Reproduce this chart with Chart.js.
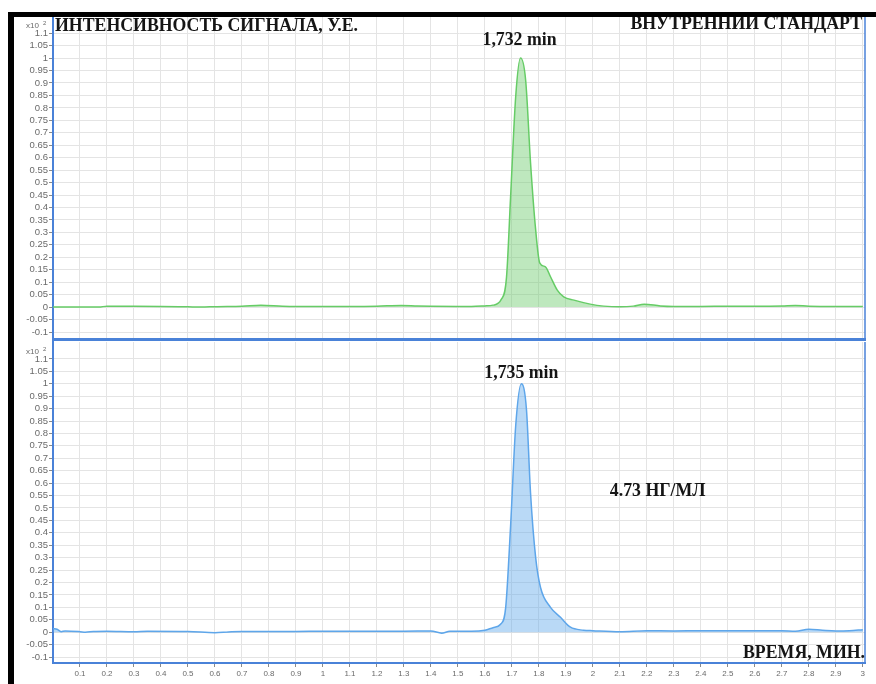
<!DOCTYPE html>
<html>
<head>
<meta charset="utf-8">
<script src="https://cdn.jsdelivr.net/npm/chart.js@4.4.1/dist/chart.umd.min.js"></script>
<style>
  html, body { margin: 0; padding: 0; background: #fff; }
  #wrap { position: relative; width: 876px; height: 684px; overflow: hidden; background: #fff; }
  #wrap canvas { position: absolute; left: 0; }
  #cTop { top: 0; }
  #cBot { top: 340px; }
  .bar { position: absolute; background: #000; z-index: 5; }
</style>
</head>
<body>
<div id="wrap">
  <canvas id="cTop" width="876" height="342" style="width:876px;height:342px"></canvas>
  <canvas id="cBot" width="876" height="344" style="width:876px;height:344px"></canvas>
  <div class="bar" style="left:8px;top:12px;width:868px;height:5px"></div>
  <div class="bar" style="left:8px;top:12px;width:6px;height:672px"></div>
</div>
<script>
// Retention time, min (x) and signal intensity, x10^2 a.u. (y)

// Internal standard trace
const standardTime = [0, 0.1, 0.17, 0.2, 0.3, 0.4, 0.5, 0.55, 0.6, 0.7, 0.77, 0.85, 0.9, 1.0, 1.1, 1.2, 1.29, 1.35, 1.4, 1.5, 1.55, 1.6, 1.63, 1.66, 1.68, 1.695, 1.714, 1.732, 1.751, 1.769, 1.788, 1.803, 1.824, 1.843, 1.868, 1.892, 1.93, 1.99, 2.04, 2.1, 2.15, 2.19, 2.25, 2.3, 2.4, 2.5, 2.6, 2.7, 2.75, 2.8, 2.9, 3.0];
const standardSignal = [0, 0, 0, 0.004, 0.004, 0.003, 0.001, 0, 0.002, 0.004, 0.008, 0.004, 0.003, 0.003, 0.003, 0.004, 0.007, 0.005, 0.004, 0.003, 0.003, 0.005, 0.008, 0.03, 0.12, 0.44, 0.845, 1.0, 0.91, 0.58, 0.31, 0.178, 0.162, 0.122, 0.068, 0.041, 0.028, 0.012, 0.004, 0.001, 0.004, 0.012, 0.005, 0.003, 0.003, 0.004, 0.004, 0.005, 0.007, 0.004, 0.003, 0.003];

// Sample trace
const sampleTime = [0, 0.015, 0.03, 0.045, 0.1, 0.12, 0.15, 0.2, 0.3, 0.35, 0.5, 0.6, 0.65, 0.7, 0.8, 0.9, 1.0, 1.1, 1.2, 1.3, 1.4, 1.44, 1.47, 1.55, 1.6, 1.63, 1.658, 1.677, 1.695, 1.714, 1.735, 1.754, 1.769, 1.788, 1.806, 1.843, 1.88, 1.917, 1.965, 2.0, 2.1, 2.2, 2.3, 2.4, 2.5, 2.6, 2.7, 2.75, 2.8, 2.85, 2.9, 2.95, 3.0];
const sampleSignal = [0.015, 0.012, 0.002, 0.005, 0.002, 0, 0.003, 0.004, 0.002, 0.004, 0.003, -0.002, 0.001, 0.003, 0.003, 0.003, 0.004, 0.004, 0.004, 0.004, 0.005, -0.004, 0.004, 0.004, 0.008, 0.018, 0.032, 0.1, 0.425, 0.83, 1.0, 0.895, 0.56, 0.3, 0.18, 0.1, 0.06, 0.02, 0.008, 0.006, 0.002, 0.006, 0.005, 0.006, 0.006, 0.006, 0.006, 0.004, 0.012, 0.008, 0.005, 0.006, 0.01];

// Peak apexes and result
const standardPeakTime = 1.732;
const samplePeakTime = 1.735;
const standardPeakLabel = '1,732 min';
const samplePeakLabel = '1,735 min';
const resultLabel = '4.73 НГ/МЛ';

// Axis ticks
const yTicks = [-0.1, -0.05, 0, 0.05, 0.1, 0.15, 0.2, 0.25, 0.3, 0.35, 0.4, 0.45, 0.5, 0.55, 0.6, 0.65, 0.7, 0.75, 0.8, 0.85, 0.9, 0.95, 1, 1.05, 1.1];
const xTicks = [0.1, 0.2, 0.3, 0.4, 0.5, 0.6, 0.7, 0.8, 0.9, 1, 1.1, 1.2, 1.3, 1.4, 1.5, 1.6, 1.7, 1.8, 1.9, 2, 2.1, 2.2, 2.3, 2.4, 2.5, 2.6, 2.7, 2.8, 2.9, 3];

const AXIS_BLUE = '#4a82d8';
const GRID = '#e4e4e4';
const TICK_TEXT = '#6a6a6a';
const TITLE_FONT = 'bold 17.8px "Liberation Serif", "Times New Roman", serif';

const fmt = v => String(Math.round(v * 100) / 100);

function toPoints(xs, ys) {
  return xs.map((x, i) => ({ x: x, y: ys[i] }));
}

// Texts, exponent marker and right frame line
const annotPlugin = {
  id: 'annot',
  afterDraw(chart, args, opts) {
    const ctx = chart.ctx;
    const area = chart.chartArea;
    const xs = chart.scales.x, ys = chart.scales.y;
    ctx.save();
    // right frame
    ctx.strokeStyle = AXIS_BLUE;
    ctx.lineWidth = 1.5;
    ctx.beginPath();
    ctx.moveTo(area.right, area.top);
    ctx.lineTo(area.right, area.bottom);
    ctx.stroke();

    // exponent marker above the y ticks
    const ey = ys.getPixelForValue(1.1) - 8;
    ctx.fillStyle = TICK_TEXT;
    ctx.textBaseline = 'middle';
    ctx.textAlign = 'left';
    ctx.font = '8px "Liberation Sans", Arial, sans-serif';
    ctx.fillText('x10', 26, ey + 1);
    ctx.font = '6px "Liberation Sans", Arial, sans-serif';
    ctx.fillText('2', 43, ey - 2);

    ctx.fillStyle = '#151515';
    (opts.texts || []).forEach(t => {
      ctx.textAlign = t.align || 'center';
      let px = t.px, py = t.py;
      if (t.x !== undefined) px = xs.getPixelForValue(t.x) + (t.dx || 0);
      if (t.y !== undefined) py = ys.getPixelForValue(t.y) + (t.dy || 0);
      ctx.font = t.font || TITLE_FONT;
      ctx.fillText(t.text, px, py);
    });
    ctx.restore();
  }
};

function makeChart(canvas, cfg) {
  return new Chart(canvas, {
    type: 'line',
    data: {
      datasets: [{
        data: toPoints(cfg.time, cfg.signal),
        borderColor: cfg.line,
        backgroundColor: cfg.fill,
        borderWidth: 1.5,
        pointRadius: 0,
        fill: 'origin',
        cubicInterpolationMode: 'monotone'
      }]
    },
    options: {
      responsive: false,
      animation: false,
      events: [],
      layout: { padding: cfg.padding },
      plugins: {
        legend: { display: false },
        tooltip: { enabled: false },
        annot: { texts: cfg.texts }
      },
      scales: {
        x: {
          type: 'linear',
          min: 0,
          max: 3.008,
          afterBuildTicks: s => { s.ticks = xTicks.map(v => ({ value: v })); },
          afterFit: s => { s.height = cfg.xHeight; s.paddingLeft = 0; s.paddingRight = 0; },
          ticks: {
            display: cfg.xLabels,
            autoSkip: false,
            maxRotation: 0,
            padding: 2,
            color: TICK_TEXT,
            font: { family: '"Liberation Sans", Arial, sans-serif', size: 8 },
            callback: v => fmt(v)
          },
          grid: { color: GRID, lineWidth: 1, drawTicks: cfg.xLabels, tickLength: 4, tickColor: '#8a8a8a' },
          border: { color: AXIS_BLUE, width: cfg.xBorder }
        },
        y: {
          type: 'linear',
          min: cfg.yMin,
          max: cfg.yMax,
          afterBuildTicks: s => { s.ticks = yTicks.map(v => ({ value: v })); },
          afterFit: s => { s.width = 53; s.paddingTop = 0; s.paddingBottom = 0; },
          ticks: {
            autoSkip: false,
            padding: 1,
            color: TICK_TEXT,
            font: { family: '"Liberation Sans", Arial, sans-serif', size: 9.5 },
            callback: v => fmt(v)
          },
          grid: { color: GRID, lineWidth: 1, drawTicks: true, tickLength: 4, tickColor: '#8a8a8a' },
          border: { color: AXIS_BLUE, width: 2 }
        }
      }
    },
    plugins: [annotPlugin]
  });
}

makeChart(document.getElementById('cTop'), {
  time: standardTime,
  signal: standardSignal,
  line: '#66cc66',
  fill: 'rgba(110, 205, 110, 0.45)',
  padding: { left: 0, top: 17, right: 11, bottom: 0 },
  xHeight: 3,
  xLabels: false,
  xBorder: 3,
  yMin: -0.128,
  yMax: 1.165,
  texts: [
    { text: 'ИНТЕНСИВНОСТЬ СИГНАЛА, У.Е.', px: 55, py: 26, align: 'left' },
    { text: 'ВНУТРЕННИЙ СТАНДАРТ', px: 862, py: 24, align: 'right' },
    { text: standardPeakLabel, x: standardPeakTime, py: 40, dx: -1 }
  ]
});

makeChart(document.getElementById('cBot'), {
  time: sampleTime,
  signal: sampleSignal,
  line: '#5ea6ea',
  fill: 'rgba(100, 170, 235, 0.45)',
  padding: { left: 0, top: 2, right: 11, bottom: 0 },
  xHeight: 21,
  xLabels: true,
  xBorder: 2,
  yMin: -0.124,
  yMax: 1.168,
  texts: [
    { text: samplePeakLabel, x: samplePeakTime, py: 33 },
    { text: resultLabel, x: 2.24, y: 0.567 },
    { text: 'ВРЕМЯ, МИН.', px: 865, py: 313, align: 'right' }
  ]
});
</script>
</body>
</html>
